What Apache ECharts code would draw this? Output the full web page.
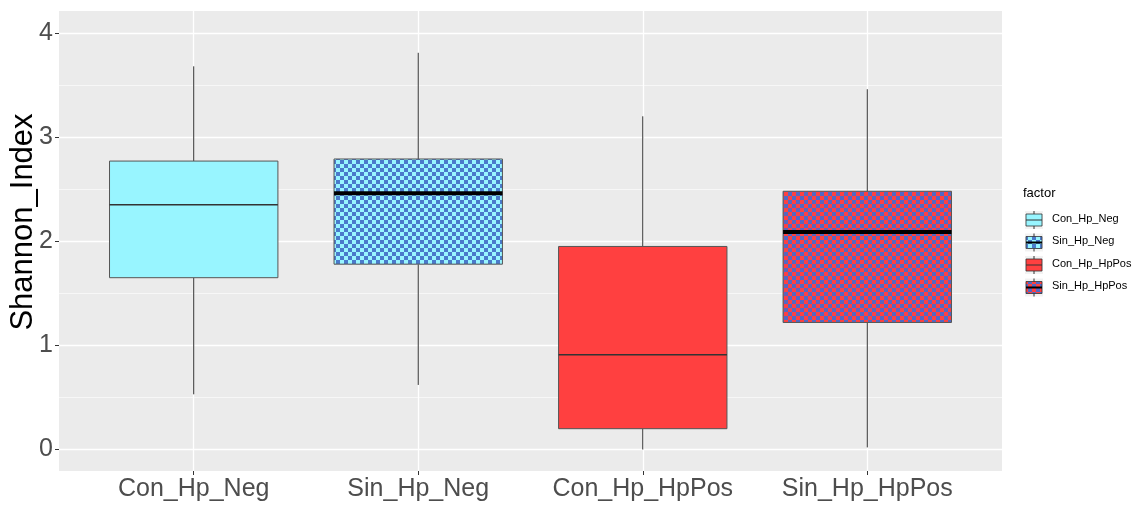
<!DOCTYPE html>
<html><head><meta charset="utf-8">
<script src="https://cdn.jsdelivr.net/npm/echarts@6/dist/echarts.min.js"></script>
<style>html,body{margin:0;padding:0;background:#fff}#c{width:1145px;height:505px}</style>
</head><body><div id="c"></div>
<script>
var categories = ['Con_Hp_Neg','Sin_Hp_Neg','Con_Hp_HpPos','Sin_Hp_HpPos'];
var whiskerLow  = [0.53, 0.62, 0.00, 0.02];
var q1          = [1.65, 1.78, 0.20, 1.22];
var median      = [2.35, 2.46, 0.91, 2.09];
var q3          = [2.77, 2.79, 1.95, 2.48];
var whiskerHigh = [3.68, 3.81, 3.20, 3.46];
var yTicks = [0, 1, 2, 3, 4];

var FONT = '"Liberation Sans", Arial, sans-serif';
function checker(a, b, s) {
  var c = document.createElement('canvas');
  c.width = 2*s; c.height = 2*s;
  var g = c.getContext('2d');
  g.fillStyle = a; g.fillRect(0,0,2*s,2*s);
  g.fillStyle = b; g.fillRect(s,0,s,s); g.fillRect(0,s,s,s);
  return {image: c, repeat: 'repeat'};
}
var fills = ['#98F5FF', checker('#98F5FF', '#4A7ACB', 4), '#FF4040', checker('#FF4040', '#5268C4', 4)];
var medW = [1.5, 4, 1.5, 4];
var medC = ['#333', '#000', '#333', '#000'];

// panel geometry
var PL = 59, PR = 1002, PT = 11, PB = 471;
var Y0 = 449.5, Y4 = 33;
var unit = (PR - PL) / 4.2;
var c1 = PL + 0.6*unit, c4 = PL + 3.6*unit;

var boxData = categories.map(function(c, i){ return [i+1, whiskerLow[i], q1[i], median[i], q3[i], whiskerHigh[i]]; });

var chart = echarts.init(document.getElementById('c'));

var legendEls = [{type:'text', left: 1023, top: 187, style:{text:'factor', font:'13px '+FONT, fill:'#000'}}];
categories.forEach(function(c, i){
  var cy = 220 + i*22.5;
  var x0 = 1025, w = 18;
  legendEls.push({type:'rect', shape:{x:x0, y:cy-9, width:w, height:18}, style:{fill:'#F2F2F2'}});
  legendEls.push({type:'line', shape:{x1:x0+w/2, y1:cy-9, x2:x0+w/2, y2:cy+9}, style:{stroke:'#333', lineWidth:1}});
  legendEls.push({type:'rect', shape:{x:x0+1, y:cy-6, width:w-2, height:12}, style:{fill:fills[i], stroke:'#333', lineWidth:0.8}});
  legendEls.push({type:'line', shape:{x1:x0+1, y1:cy, x2:x0+w-1, y2:cy}, style:{stroke:medC[i], lineWidth: i%2 ? 2 : 1}});
  legendEls.push({type:'text', left: 1052, top: cy-7, style:{text:c, font:'11px '+FONT, fill:'#000'}});
});
legendEls.push({type:'text', rotation: Math.PI/2, x: 8, y: 222, style:{text:'Shannon_Index', font:'31px '+FONT, fill:'#000', textAlign:'center', textVerticalAlign:'top'}});

chart.setOption({
  animation: false,
  grid: [
    {left: PL, right: 1145-PR, top: PT, bottom: 505-PB, show: true, backgroundColor: '#EBEBEB', borderWidth: 0, z: -5},
    {left: PL, right: 1145-PR, top: Y4, bottom: 505-Y0},
    {left: c1, right: 1145-c4, top: PT, bottom: 505-PB}
  ],
  xAxis: [
    {gridIndex: 0, type: 'value', show: false, min: 0, max: 1},
    {gridIndex: 1, type: 'value', show: false, min: 0.4, max: 4.6},
    {gridIndex: 2, type: 'category', data: categories, boundaryGap: false,
     axisLine: {show: false},
     axisTick: {show: true, interval: 0, length: 4, lineStyle: {color: '#333', width: 1}},
     axisLabel: {interval: 0, color: '#4D4D4D', fontSize: 25, fontFamily: FONT, margin: 6},
     splitLine: {show: true, interval: 0, lineStyle: {color: '#fff', width: 1.3}}}
  ],
  yAxis: [
    {gridIndex: 0, type: 'value', show: false, min: 0, max: 1},
    {gridIndex: 1, type: 'value', min: 0, max: 4, interval: 1,
     axisLine: {show: false},
     axisTick: {show: true, length: 4, lineStyle: {color: '#333', width: 1}},
     axisLabel: {color: '#4D4D4D', fontSize: 25, fontFamily: FONT, margin: 6,
       formatter: function(v){ return yTicks.indexOf(v) >= 0 ? String(v) : ''; }},
     splitLine: {show: true, lineStyle: {color: '#fff', width: 1.3}},
     minorTick: {show: false, splitNumber: 2},
     minorSplitLine: {show: true, lineStyle: {color: '#fff', width: 0.6}}},
    {gridIndex: 2, type: 'value', show: false, min: 0, max: 1}
  ],
  graphic: legendEls,
  series: [{
    type: 'custom',
    xAxisIndex: 1, yAxisIndex: 1,
    data: boxData,
    renderItem: function(params, api){
      var i = params.dataIndex;
      var x = api.value(0);
      var bw = api.size([1, 0])[0] * 0.75;
      var pLo = api.coord([x, api.value(1)]);
      var pQ1 = api.coord([x, api.value(2)]);
      var pMd = api.coord([x, api.value(3)]);
      var pQ3 = api.coord([x, api.value(4)]);
      var pHi = api.coord([x, api.value(5)]);
      var cx = pMd[0];
      return {type: 'group', children: [
        {type: 'line', shape: {x1: cx, y1: pHi[1], x2: cx, y2: pQ3[1]}, style: {stroke: '#333', lineWidth: 1}},
        {type: 'line', shape: {x1: cx, y1: pQ1[1], x2: cx, y2: pLo[1]}, style: {stroke: '#333', lineWidth: 1}},
        {type: 'rect', shape: {x: cx - bw/2, y: pQ3[1], width: bw, height: pQ1[1] - pQ3[1]},
         style: {fill: fills[i], stroke: '#555', lineWidth: 1}},
        {type: 'line', shape: {x1: cx - bw/2, y1: pMd[1], x2: cx + bw/2, y2: pMd[1]}, style: {stroke: medC[i], lineWidth: medW[i]}}
      ]};
    }
  }]
});
</script></body></html>
